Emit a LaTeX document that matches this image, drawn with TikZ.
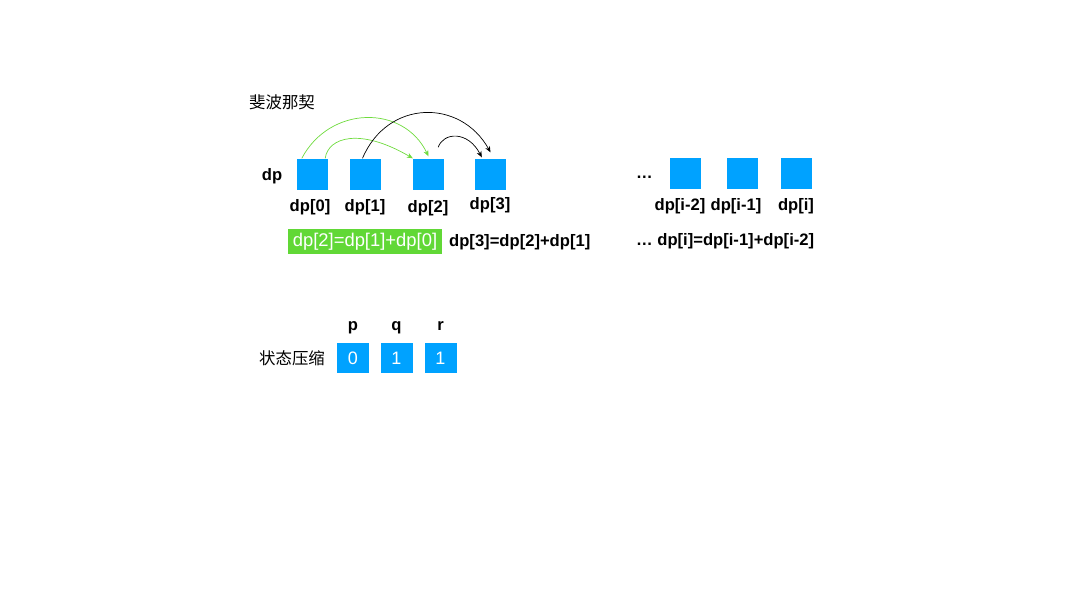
\documentclass[tikz,border=0pt]{standalone}
\usepackage{fontspec}
\setmainfont{Liberation Sans}
\newfontfamily\cjk{Noto Sans CJK SC}
\usetikzlibrary{arrows.meta}
\definecolor{cell}{HTML}{00A2FF}
\definecolor{hilite}{HTML}{61D836}
\definecolor{sumarc}{HTML}{6FDB3E}
\tikzset{
  cellbox/.style={fill=cell, minimum width=31pt, minimum height=31pt, inner sep=0pt},
  valbox/.style={cellbox, minimum width=32pt, minimum height=30pt, text=white,
    font=\fontsize{18}{20}\selectfont},
  lbl/.style={font=\bfseries\fontsize{16.6}{18}\selectfont, inner sep=0pt},
  cjklbl/.style={font=\cjk\fontsize{16.4}{18}\selectfont, inner sep=0pt},
  eqbox/.style={fill=hilite, text=white, minimum width=154pt, minimum height=25pt,
    inner sep=0pt, font=\fontsize{18.4}{20}\selectfont},
  link/.style={-{Stealth[length=6pt,width=5pt]}, line width=0.7pt},
}

\begin{document}
\begin{tikzpicture}[x=1pt, y=-1pt]
\useasboundingbox (0,0) rectangle (1080,608);

%% ---- fibonacci row -----------------------------------------------------
\node[cjklbl, anchor=west] (title) at (249,102) {斐波那契};
\node[lbl] (dp) at (272,176) {dp};
\foreach \n/\x in {d0/312.5, d1/365.5, d2/428.5, d3/490.5}
  \node[cellbox] (\n) at (\x,174) {};
\foreach \n/\t/\x/\y in {l0/dp[0]/310/207, l1/dp[1]/365/207, l2/dp[2]/428/208, l3/dp[3]/490/205}
  \node[lbl] (\n) at (\x,\y) {\t};

% arcs: each cell feeds the next two
\draw[link, sumarc] ([xshift=5pt]d0.north west)
  .. controls +(28,-53) and +(-25,-52) .. ([yshift=2pt]d2.north);
\draw[link, sumarc] ([xshift=-3pt]d0.north east)
  .. controls +(3,-21) and +(-53,-31) .. (d2.north west);
\draw[link] ([xshift=-3pt]d1.north)
  .. controls +(25,-59) and +(-30,-54) .. ([yshift=6pt]d3.north);
\draw[link] ([xshift=-6pt,yshift=11pt]d2.north east)
  .. controls +(5,-15) and +(-14,-27) .. ([xshift=7pt,yshift=1pt]d3.north west);

%% ---- general tail ------------------------------------------------------
\node[lbl, anchor=west] (dots) at (636,177) {…};
\foreach \n/\x in {di2/685.5, di1/742.5, di0/796.5}
  \node[cellbox] (\n) at (\x,173.5) {};
\foreach \n/\t/\x in {li2/dp[i-2]/680, li1/dp[i-1]/736, li0/dp[i]/796}
  \node[lbl] (\n) at (\x,206) {\t};

%% ---- recurrences -------------------------------------------------------
\node[eqbox] (eq2) at (365,241.5) {dp[2]=dp[1]+dp[0]};
\node[lbl, anchor=west] (eq3) at (449,242) {dp[3]=dp[2]+dp[1]};
\node[lbl, anchor=west] (eqi) at (636,241) {… dp[i]=dp[i-1]+dp[i-2]};

%% ---- state compression -------------------------------------------------
\node[cjklbl, anchor=west] (squeeze) at (259,358) {状态压缩};
\foreach \n/\v/\x/\t in {sp/0/353/p, sq/1/396.5/q, sr/1/440.5/r} {
  \node[valbox] (\n) at (\x,358) {\v};
  \node[lbl, anchor=base] (\n-name) at (\x,330) {\t};
}

\end{tikzpicture}
\end{document}
